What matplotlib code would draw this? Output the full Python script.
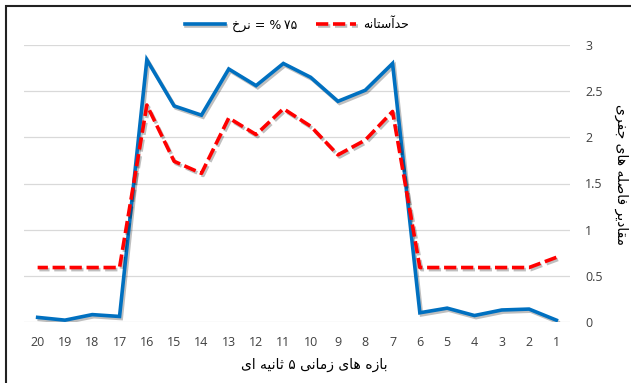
import matplotlib
matplotlib.use('Agg')
import matplotlib.pyplot as plt
import matplotlib.patheffects as pe
from matplotlib.patches import Rectangle

# data
periods = list(range(1, 21))
rate_75 = [0.02, 0.14, 0.13, 0.07, 0.15, 0.10, 2.80, 2.51, 2.39, 2.65,
           2.80, 2.56, 2.74, 2.24, 2.34, 2.84, 0.06, 0.08, 0.02, 0.05]
threshold = [0.70, 0.59, 0.59, 0.59, 0.59, 0.59, 2.28, 1.97, 1.81, 2.12,
             2.31, 2.03, 2.21, 1.61, 1.74, 2.35, 0.59, 0.59, 0.59, 0.59]
y_ticks = [0, 0.5, 1, 1.5, 2, 2.5, 3]
y_tick_labels = ['0', '0.5', '1', '1.5', '2', '2.5', '3']

# arabic presentation forms: (isolated, final, initial, medial)
FORMS = {
    '\u0627': ('\uFE8D', '\uFE8E', None, None),
    '\u0622': ('\uFE81', '\uFE82', None, None),
    '\u0628': ('\uFE8F', '\uFE90', '\uFE91', '\uFE92'),
    '\u062A': ('\uFE95', '\uFE96', '\uFE97', '\uFE98'),
    '\u062B': ('\uFE99', '\uFE9A', '\uFE9B', '\uFE9C'),
    '\u062C': ('\uFE9D', '\uFE9E', '\uFE9F', '\uFEA0'),
    '\u062D': ('\uFEA1', '\uFEA2', '\uFEA3', '\uFEA4'),
    '\u062E': ('\uFEA5', '\uFEA6', '\uFEA7', '\uFEA8'),
    '\u062F': ('\uFEA9', '\uFEAA', None, None),
    '\u0631': ('\uFEAD', '\uFEAE', None, None),
    '\u0632': ('\uFEAF', '\uFEB0', None, None),
    '\u0633': ('\uFEB1', '\uFEB2', '\uFEB3', '\uFEB4'),
    '\u0635': ('\uFEB9', '\uFEBA', '\uFEBB', '\uFEBC'),
    '\u0641': ('\uFED1', '\uFED2', '\uFED3', '\uFED4'),
    '\u0642': ('\uFED5', '\uFED6', '\uFED7', '\uFED8'),
    '\u0644': ('\uFEDD', '\uFEDE', '\uFEDF', '\uFEE0'),
    '\u0645': ('\uFEE1', '\uFEE2', '\uFEE3', '\uFEE4'),
    '\u0646': ('\uFEE5', '\uFEE6', '\uFEE7', '\uFEE8'),
    '\u0647': ('\uFEE9', '\uFEEA', '\uFEEB', '\uFEEC'),
    '\u0648': ('\uFEED', '\uFEEE', None, None),
    '\u06CC': ('\uFBFC', '\uFBFD', '\uFBFE', '\uFBFF'),
}


def joins_next(ch):
    return ch in FORMS and FORMS[ch][2] is not None


def persian(text):
    """
        Shape the persian text into presentation forms and return it in
        visual (left to right) order, since matplotlib has no bidi support.
    """
    out = []
    for i, ch in enumerate(text):
        if ch not in FORMS:
            out.append(ch)
            continue
        prev = text[i-1] if i > 0 else ''
        nxt = text[i+1] if i < len(text)-1 else ''
        from_prev = joins_next(prev)
        to_next = joins_next(ch) and nxt in FORMS
        iso, fin, ini, med = FORMS[ch]
        if from_prev and to_next:
            out.append(med)
        elif from_prev:
            out.append(fin)
        elif to_next:
            out.append(ini)
        else:
            out.append(iso)
    return ''.join(out[::-1])


FONT = 'DejaVu Sans'
TICK_FONT = ['Open Sans', 'DejaVu Sans']

fig = plt.figure(figsize=(6.31, 3.83), dpi=100)
ax = fig.add_axes([24/631, 61/383, 546/631, 277/383])

shadow = [pe.SimpleLineShadow(offset=(1.2, -1.5), alpha=0.25, shadow_color='k'),
          pe.Normal()]
ax.plot(periods, rate_75, color='#0070C0', lw=2.6, solid_joinstyle='miter',
        label=persian('\u0646\u0631\u062E') + ' = %\u2009\u06F7\u06F5',
        path_effects=shadow, zorder=3)
ax.plot(periods, threshold, color='#FF0000', lw=2.6, dashes=(3.4, 1.3),
        dash_capstyle='butt',
        label=persian('\u062D\u062F\u0622\u0633\u062A\u0627\u0646\u0647'),
        path_effects=shadow, zorder=4)

ax.set_xlim(20.5, 0.5)
ax.set_ylim(0, 3)
ax.set_xticks(periods)
ax.set_xticklabels([str(p) for p in periods], family=TICK_FONT,
                   fontsize=9, color='#404040')
ax.yaxis.tick_right()
ax.set_yticks(y_ticks)
ax.set_yticklabels(y_tick_labels, family=TICK_FONT, fontsize=9,
                   color='#404040')
ax.tick_params(length=0)
ax.tick_params(axis='x', pad=10)
ax.tick_params(axis='y', pad=11)
ax.grid(axis='y', color='#D9D9D9', lw=0.9)
ax.set_axisbelow(True)
for s in ax.spines.values():
    s.set_visible(False)

fig.text(314/631, 1 - 365/383,
         persian('\u0628\u0627\u0632\u0647 \u0647\u0627\u06CC '
                 '\u0632\u0645\u0627\u0646\u06CC \u06F5 '
                 '\u062B\u0627\u0646\u06CC\u0647 \u0627\u06CC'),
         family=FONT, fontsize=10, ha='center', va='center')
fig.text(621/631, 1 - 175/383,
         persian('\u0645\u0642\u0627\u062F\u06CC\u0631 '
                 '\u0641\u0627\u0635\u0644\u0647 \u0647\u0627\u06CC '
                 '\u062C\u0641\u0631\u06CC'),
         family=FONT, fontsize=10, rotation=-90, ha='center', va='center')

fig.legend(loc='center', bbox_to_anchor=(297/631, 1 - 25/383), ncol=2,
           frameon=False, prop={'family': FONT, 'size': 9},
           handlelength=3.2, columnspacing=1.5, handletextpad=0.6)

# outer frame: only top and left edges are visible in the reference
fig.patches.append(Rectangle((5.5/631, -0.1), 1.2, 1 - 5.5/383 + 0.1,
                             transform=fig.transFigure, fill=False,
                             edgecolor='#222222', lw=1.5))

fig.savefig('out.png', dpi=100)
